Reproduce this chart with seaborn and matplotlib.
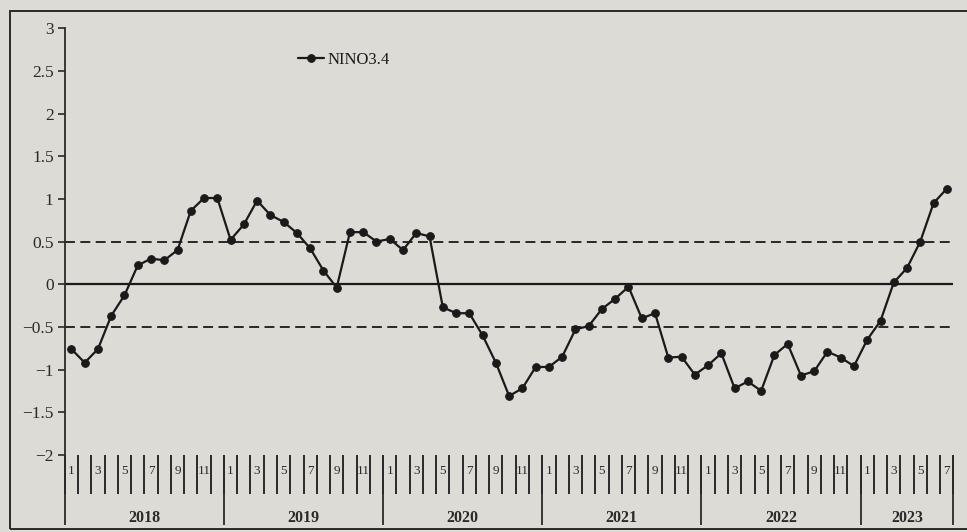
import numpy as np
import pandas as pd
import matplotlib
matplotlib.use("Agg")
import matplotlib.pyplot as plt
import seaborn as sns

# ---- data ----
years = [2018, 2019, 2020, 2021, 2022, 2023]
vals_2018 = [-0.76, -0.92, -0.76, -0.37, -0.13, 0.22, 0.30, 0.28, 0.40, 0.86, 1.01, 1.01]
vals_2019 = [0.52, 0.70, 0.98, 0.81, 0.73, 0.60, 0.42, 0.16, -0.04, 0.61, 0.61, 0.50]
vals_2020 = [0.53, 0.40, 0.60, 0.56, -0.27, -0.34, -0.34, -0.60, -0.92, -1.31, -1.22, -0.97]
vals_2021 = [-0.97, -0.85, -0.53, -0.49, -0.29, -0.17, -0.03, -0.40, -0.34, -0.86, -0.85, -1.06]
vals_2022 = [-0.95, -0.81, -1.22, -1.14, -1.25, -0.83, -0.70, -1.07, -1.02, -0.79, -0.86, -0.96]
vals_2023 = [-0.65, -0.43, 0.02, 0.19, 0.50, 0.95, 1.12]
series_name = "NINO3.4"
threshold_levels = [0.5, -0.5]
zero_level = 0.0
yticks = [3, 2.5, 2, 1.5, 1, 0.5, 0, -0.5, -1, -1.5, -2]
ytick_labels = ["3", "2.5", "2", "1.5", "1", "0.5", "0", "\u22120.5", "\u22121", "\u22121.5", "\u22122"]
month_labels_shown = ["1", "3", "5", "7", "9", "11"]

all_vals = [vals_2018, vals_2019, vals_2020, vals_2021, vals_2022, vals_2023]
rows = []
for y, vs in zip(years, all_vals):
    for m, v in enumerate(vs, start=1):
        rows.append({"year": y, "month": m, "value": v})
df = pd.DataFrame(rows)
df["idx"] = np.arange(len(df))
n = len(df)

sns.set_theme(style="white")
plt.rcParams["font.family"] = ["Liberation Serif", "DejaVu Serif"]

bg = "#dcdbd6"
fig = plt.figure(figsize=(9.67, 5.32), dpi=100, facecolor=bg)
ax = fig.add_axes([0.067, 0.145, 0.919, 0.802], facecolor=bg)

# reference lines
ax.axhline(zero_level, color="#1a1a1a", lw=1.6, zorder=1)
for t in threshold_levels:
    ax.axhline(t, color="#1a1a1a", lw=1.3, ls=(0, (5.5, 3)), zorder=1)

sns.lineplot(data=df, x="idx", y="value", ax=ax, color="#1a1a1a", lw=1.6,
             marker="o", markersize=5.5, markeredgecolor="#1a1a1a",
             label=series_name, zorder=3)

ax.set_xlim(-0.5, n - 0.5)
ax.set_ylim(-2, 3)
ax.set_xlabel("")
ax.set_ylabel("")

# y axis
ax.set_yticks(yticks)
ax.set_yticklabels(ytick_labels, fontsize=12.5, color="#2a2a2a")
ax.tick_params(axis="y", direction="out", length=5, width=1.2, color="#2a2a2a", pad=3, left=True)

for s in ["top", "right", "bottom"]:
    ax.spines[s].set_visible(False)
ax.spines["left"].set_color("#2a2a2a")
ax.spines["left"].set_linewidth(1.3)

# x axis: month boundary ticks (minor), odd-month labels (major, no tick)
boundaries = np.arange(-0.5, n, 1.0)
ax.set_xticks(boundaries, minor=True)
ax.tick_params(axis="x", which="minor", direction="out", length=28, width=1.4,
               color="#2a2a2a", bottom=True)
label_pos = df.index[df["month"].astype(str).isin(month_labels_shown)].to_numpy()
ax.set_xticks(label_pos)
ax.set_xticklabels(df.loc[label_pos, "month"].astype(str), fontsize=9.5, color="#2a2a2a")
ax.tick_params(axis="x", which="major", length=0, pad=7, bottom=True)

# year separators and labels
xt = ax.get_xaxis_transform()
year_starts = df.groupby("year")["idx"].min().to_numpy()
year_ends = df.groupby("year")["idx"].max().to_numpy()
seps = list(year_starts - 0.5) + [year_ends[-1] + 0.5]
ax.vlines(seps, -0.165, 0, transform=xt, color="#2a2a2a", lw=1.3, clip_on=False)
for y, a, b in zip(years, year_starts, year_ends):
    ax.text((a + b) / 2, -0.148, str(y), transform=xt, ha="center", va="center",
            fontsize=11.5, fontweight="bold", color="#2a2a2a")

# legend
leg = ax.legend(loc="center left", bbox_to_anchor=(0.245, 0.925), frameon=False,
                handlelength=1.6, handletextpad=0.2, fontsize=12)
for t in leg.get_texts():
    t.set_color("#1a1a1a")

# outer frame
fig.add_artist(plt.Rectangle((0.010, 1 - 529 / 532), 1.2, (529 - 11) / 532,
                             transform=fig.transFigure, fill=False,
                             edgecolor="#2a2a2a", lw=1.4))

fig.savefig("out.png", dpi=100, facecolor=bg)
